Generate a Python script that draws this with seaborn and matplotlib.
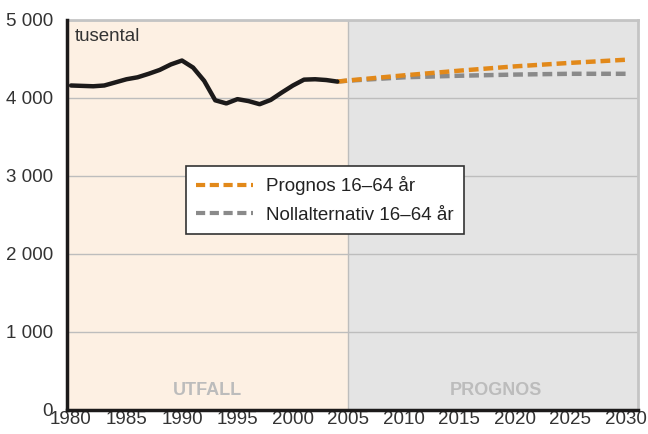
import pandas as pd
import matplotlib.pyplot as plt
import seaborn as sns

# utfall, tusental
years_hist = [1980, 1981, 1982, 1983, 1984, 1985, 1986, 1987, 1988, 1989,
              1990, 1991, 1992, 1993, 1994, 1995, 1996, 1997, 1998, 1999,
              2000, 2001, 2002, 2003, 2004]
utfall = [4160, 4155, 4150, 4160, 4200, 4240, 4265, 4310, 4360, 4430,
          4480, 4390, 4220, 3970, 3930, 3985, 3960, 3920, 3975, 4070,
          4160, 4235, 4240, 4230, 4210]

years_prog = [2004, 2005, 2010, 2015, 2020, 2025, 2030]
prognos = [4210, 4225, 4290, 4350, 4405, 4450, 4490]
nollalt = [4210, 4222, 4265, 4285, 4300, 4310, 4310]

label_prog = 'Prognos 16–64 år'
label_noll = 'Nollalternativ 16–64 år'
y_ticks = [0, 1000, 2000, 3000, 4000, 5000]
y_ticklabels = ['0', '1 000', '2 000', '3 000', '4 000', '5 000']
x_ticks = list(range(1980, 2031, 5))

sns.set_style('white')
plt.rcParams['font.family'] = ['Liberation Sans', 'DejaVu Sans']

df_hist = pd.DataFrame({'year': years_hist, 'value': utfall})
df_prog = pd.DataFrame({'year': years_prog, 'value': prognos})
df_noll = pd.DataFrame({'year': years_prog, 'value': nollalt})

fig = plt.figure(figsize=(6.48, 4.34), dpi=100)
ax = fig.add_axes([0.1034, 0.0553, 0.8812, 0.8987])

ax.axvspan(1979.64, 2005, color='#fdf0e3', zorder=0, lw=0)
ax.axvspan(2005, 2031.1, color='#e4e4e4', zorder=0, lw=0)
for yv in y_ticks[1:]:
    ax.axhline(yv, color='#bdbdbd', lw=1, zorder=1)
ax.axvline(2005, color='#bdbdbd', lw=1, zorder=1)

dash = (0, (2.2, 1.1))
sns.lineplot(data=df_hist, x='year', y='value', color='#1c1a1a', lw=3.2, ax=ax,
             zorder=4, legend=False)
sns.lineplot(data=df_noll, x='year', y='value', color='#8a8a8a', lw=3.2,
             linestyle=dash, ax=ax, zorder=3, label=label_noll)
sns.lineplot(data=df_prog, x='year', y='value', color='#e2891a', lw=3.2,
             linestyle=dash, ax=ax, zorder=3, label=label_prog)

ax.set_xlim(1979.64, 2031.1)
ax.set_ylim(0, 5000)
ax.set_xticks(x_ticks)
ax.set_xticklabels([str(x) for x in x_ticks], fontsize=13.5, color='#333333')
ax.set_yticks(y_ticks)
ax.set_yticklabels(y_ticklabels, fontsize=13.5, color='#333333')
ax.tick_params(axis='both', length=0)
ax.tick_params(axis='x', pad=0.8)
ax.tick_params(axis='y', pad=10)
ax.set_xlabel('')
ax.set_ylabel('')

for side in ['left', 'bottom']:
    ax.spines[side].set_color('#1c1a1a')
    ax.spines[side].set_linewidth(2.5)
    ax.spines[side].set_zorder(5)
for side in ['top', 'right']:
    ax.spines[side].set_color('#c4c4c4')
    ax.spines[side].set_linewidth(2)

ax.text(1980.3, 4900, 'tusental', fontsize=13.5, color='#333333', va='top')
ax.text(1992.3, 250, 'UTFALL', fontsize=13, color='#bcbcbc', fontweight='bold', ha='center', va='center')
ax.text(2018.3, 250, 'PROGNOS', fontsize=13, color='#bcbcbc', fontweight='bold', ha='center', va='center')

handles, labels = ax.get_legend_handles_labels()
order = [labels.index(label_prog), labels.index(label_noll)]
leg = ax.legend([handles[i] for i in order], [labels[i] for i in order],
                loc='upper left', bbox_to_anchor=(0.2084, 0.6256), fontsize=13.5,
                frameon=True, fancybox=False, framealpha=1, edgecolor='#333333',
                handlelength=3.0, handletextpad=0.7, borderpad=0.55,
                labelspacing=0.62, borderaxespad=0)
leg.get_frame().set_linewidth(1.2)
for ln in leg.get_lines():
    ln.set_linewidth(3)
for t in leg.get_texts():
    t.set_color('#222222')

plt.savefig('out.png', dpi=100)
